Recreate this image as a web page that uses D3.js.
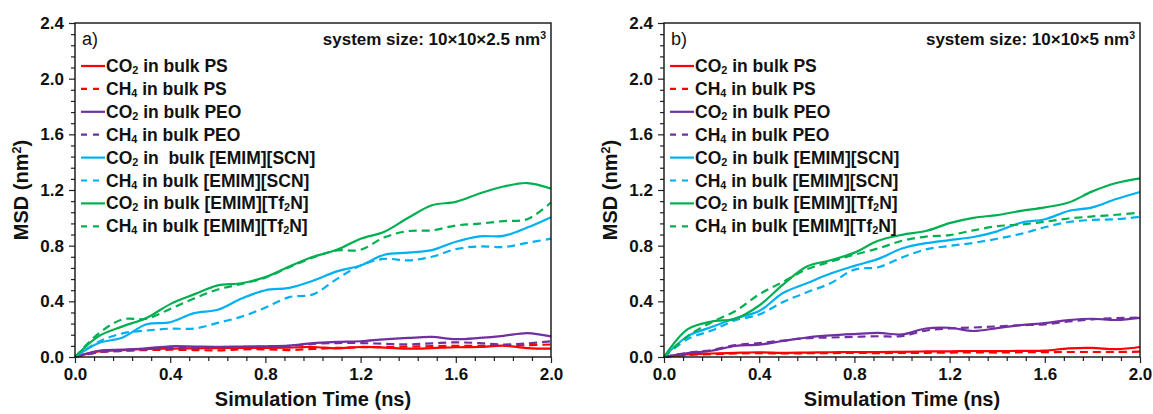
<!DOCTYPE html>
<html>
<head>
<meta charset="utf-8">
<script src="https://cdn.jsdelivr.net/npm/d3@7"></script>
<style>
  body { margin: 0; background: #fff; }
  svg text { font-family: "Liberation Sans", Arial, sans-serif; fill: #111; }
</style>
</head>
<body>
<svg id="chart" width="1153" height="414"></svg>
<script>
// time grid (ns)
const time = [0, 0.1, 0.2, 0.3, 0.4, 0.5, 0.6, 0.7, 0.8, 0.9, 1.0, 1.1, 1.2, 1.3, 1.4, 1.5, 1.6, 1.7, 1.8, 1.9, 2.0];

// panel a) 10x10x2.5 nm3
const aCO2PS   = [0, 0.04, 0.05, 0.058, 0.06, 0.062, 0.064, 0.065, 0.066, 0.068, 0.072, 0.062, 0.072, 0.068, 0.06, 0.064, 0.07, 0.072, 0.082, 0.064, 0.06];
const aCH4PS   = [0, 0.035, 0.045, 0.05, 0.052, 0.05, 0.048, 0.055, 0.055, 0.05, 0.058, 0.065, 0.07, 0.072, 0.075, 0.078, 0.08, 0.08, 0.082, 0.085, 0.09];
const aCO2PEO  = [0, 0.045, 0.053, 0.062, 0.077, 0.075, 0.073, 0.075, 0.077, 0.082, 0.1, 0.108, 0.113, 0.127, 0.137, 0.144, 0.128, 0.137, 0.152, 0.172, 0.148];
const aCH4PEO  = [0, 0.035, 0.045, 0.055, 0.065, 0.068, 0.07, 0.072, 0.075, 0.08, 0.095, 0.1, 0.1, 0.095, 0.091, 0.098, 0.105, 0.1, 0.09, 0.098, 0.113];
const aCO2SCN  = [0, 0.10, 0.14, 0.235, 0.25, 0.315, 0.34, 0.42, 0.48, 0.497, 0.548, 0.615, 0.658, 0.735, 0.75, 0.768, 0.828, 0.867, 0.87, 0.93, 1.005];
const aCH4SCN  = [0, 0.11, 0.17, 0.19, 0.204, 0.204, 0.245, 0.29, 0.355, 0.43, 0.45, 0.56, 0.658, 0.705, 0.694, 0.72, 0.775, 0.795, 0.79, 0.82, 0.85];
const aCO2Tf2N = [0, 0.15, 0.22, 0.28, 0.38, 0.45, 0.515, 0.53, 0.575, 0.65, 0.72, 0.77, 0.85, 0.9, 1.0, 1.09, 1.115, 1.175, 1.225, 1.25, 1.21];
const aCH4Tf2N = [0, 0.17, 0.27, 0.275, 0.345, 0.42, 0.485, 0.525, 0.57, 0.645, 0.715, 0.765, 0.77, 0.86, 0.905, 0.91, 0.945, 0.958, 0.977, 0.99, 1.11];

// panel b) 10x10x5 nm3
const bCO2PS   = [0, 0.018, 0.025, 0.03, 0.034, 0.03, 0.032, 0.034, 0.036, 0.035, 0.037, 0.04, 0.041, 0.043, 0.042, 0.044, 0.046, 0.062, 0.065, 0.056, 0.072];
const bCH4PS   = [0, 0.015, 0.02, 0.025, 0.028, 0.025, 0.027, 0.028, 0.03, 0.028, 0.03, 0.03, 0.032, 0.033, 0.032, 0.034, 0.035, 0.036, 0.036, 0.036, 0.038];
const bCO2PEO  = [0, 0.028, 0.045, 0.08, 0.089, 0.115, 0.14, 0.155, 0.165, 0.173, 0.162, 0.205, 0.21, 0.187, 0.208, 0.23, 0.243, 0.265, 0.275, 0.266, 0.281];
const bCH4PEO  = [0, 0.03, 0.05, 0.085, 0.1, 0.118, 0.135, 0.14, 0.145, 0.149, 0.15, 0.19, 0.205, 0.212, 0.22, 0.228, 0.235, 0.255, 0.27, 0.28, 0.283];
const bCO2SCN  = [0, 0.15, 0.215, 0.278, 0.33, 0.46, 0.53, 0.6, 0.655, 0.705, 0.78, 0.818, 0.84, 0.862, 0.903, 0.965, 0.99, 1.049, 1.075, 1.135, 1.186];
const bCH4SCN  = [0, 0.13, 0.19, 0.265, 0.305, 0.395, 0.465, 0.53, 0.628, 0.645, 0.715, 0.773, 0.798, 0.82, 0.85, 0.885, 0.932, 0.97, 0.985, 0.99, 1.008];
const bCO2Tf2N = [0, 0.2, 0.255, 0.275, 0.37, 0.52, 0.65, 0.695, 0.75, 0.835, 0.878, 0.905, 0.962, 1.0, 1.02, 1.05, 1.075, 1.11, 1.19, 1.25, 1.284];
const bCH4Tf2N = [0, 0.15, 0.25, 0.33, 0.45, 0.54, 0.63, 0.685, 0.735, 0.78, 0.835, 0.865, 0.876, 0.91, 0.94, 0.952, 0.972, 0.995, 1.01, 1.022, 1.037];

const legendA = ["CO_2 in bulk PS", "CH_4 in bulk PS", "CO_2 in bulk PEO", "CH_4 in bulk PEO",
                 "CO_2 in  bulk [EMIM][SCN]", "CH_4 in bulk [EMIM][SCN]", "CO_2 in bulk [EMIM][Tf_2N]", "CH_4 in bulk [EMIM][Tf_2N]"];
const legendB = ["CO_2 in bulk PS", "CH_4 in bulk PS", "CO_2 in bulk PEO", "CH_4 in bulk PEO",
                 "CO_2 in bulk [EMIM][SCN]", "CH_4 in bulk [EMIM][SCN]", "CO_2 in bulk [EMIM][Tf_2N]", "CH_4 in bulk [EMIM][Tf_2N]"];
const colors = ["#ff0000", "#ff0000", "#7030a0", "#7030a0", "#00b0f0", "#00b0f0", "#00b050", "#00b050"];
const dashed = [false, true, false, true, false, true, false, true];

const xTicks = [0, 0.4, 0.8, 1.2, 1.6, 2.0];
const yTicks = [0, 0.4, 0.8, 1.2, 1.6, 2.0, 2.4];

const svg = d3.select("#chart");
const plotTop = 23, plotBottom = 357;

// add text with _x subscripts and ^x superscripts
function richText(sel, str, size) {
    const parts = str.split(/([_^]\w)/);
    parts.forEach(p => {
        if (!p) return;
        if (p[0] === "_") {
            sel.append("tspan").attr("font-size", size * 0.62).attr("baseline-shift", "-22%").text(p[1]);
        } else if (p[0] === "^") {
            sel.append("tspan").attr("font-size", size * 0.62).attr("baseline-shift", "55%").text(p[1]);
        } else {
            sel.append("tspan").text(p);
        }
    });
}

function drawPanel(left, right, series, labels, tag, sizeText) {
    const x = d3.scaleLinear().domain([0, 2]).range([left, right]);
    const y = d3.scaleLinear().domain([0, 2.4]).range([plotBottom, plotTop]);
    const g = svg.append("g");

    // minor ticks
    const minorX = d3.range(0, 2.0001, 0.08).filter(v => Math.abs(v / 0.4 - Math.round(v / 0.4)) > 1e-6);
    const minorY = d3.range(0, 2.4001, 0.08).filter(v => Math.abs(v / 0.4 - Math.round(v / 0.4)) > 1e-6);
    g.append("g").attr("transform", `translate(0,${plotBottom})`)
        .call(d3.axisBottom(x).tickValues(minorX).tickSize(4).tickFormat(""))
        .call(a => a.select(".domain").remove());
    g.append("g").attr("transform", `translate(${left},0)`)
        .call(d3.axisLeft(y).tickValues(minorY).tickSize(4).tickFormat(""))
        .call(a => a.select(".domain").remove());

    const xa = g.append("g").attr("transform", `translate(0,${plotBottom})`)
        .call(d3.axisBottom(x).tickValues(xTicks).tickSize(6).tickPadding(5).tickFormat(d3.format(".1f")));
    const ya = g.append("g").attr("transform", `translate(${left},0)`)
        .call(d3.axisLeft(y).tickValues(yTicks).tickSize(6).tickPadding(5).tickFormat(d3.format(".1f")));
    [xa, ya].forEach(a => {
        a.select(".domain").remove();
        a.selectAll("text").attr("font-size", 17).attr("font-weight", "bold").attr("fill", "#111");
    });
    g.selectAll(".tick line").attr("stroke", "#222").attr("stroke-width", 1.2);

    // curves
    const line = d3.line().x((d, i) => x(time[i])).y(d => y(d)).curve(d3.curveCatmullRom.alpha(0.5));
    series.forEach((s, i) => {
        g.append("path").attr("d", line(s)).attr("fill", "none")
            .attr("stroke", colors[i]).attr("stroke-width", 2.2)
            .attr("stroke-dasharray", dashed[i] ? "8,5" : null);
    });

    // frame
    g.append("rect").attr("x", left).attr("y", plotTop).attr("width", right - left).attr("height", plotBottom - plotTop)
        .attr("fill", "none").attr("stroke", "#111").attr("stroke-width", 1.4);

    // legend
    labels.forEach((lab, i) => {
        const ly = 66 + i * 22.9;
        g.append("line").attr("x1", left + 6).attr("x2", left + 30).attr("y1", ly).attr("y2", ly)
            .attr("stroke", colors[i]).attr("stroke-width", 2.2)
            .attr("stroke-dasharray", dashed[i] ? "6,6" : null);
        const t = g.append("text").attr("x", left + 31).attr("y", ly + 6)
            .attr("font-size", 17.5).attr("font-weight", "bold").attr("xml:space", "preserve")
            .style("white-space", "pre");
        richText(t, lab, 17.5);
    });

    g.append("text").attr("x", left + 7).attr("y", 45).attr("font-size", 18).text(tag);
    const st = g.append("text").attr("x", right - 5).attr("y", 45).attr("text-anchor", "end")
        .attr("font-size", 17).attr("font-weight", "bold");
    richText(st, sizeText, 17);

    g.append("text").attr("x", (left + right) / 2).attr("y", 406).attr("text-anchor", "middle")
        .attr("font-size", 20).attr("font-weight", "bold").text("Simulation Time (ns)");
    const yl = g.append("text").attr("transform", `translate(${left - 47},${(plotTop + plotBottom) / 2}) rotate(-90)`)
        .attr("text-anchor", "middle").attr("font-size", 20).attr("font-weight", "bold");
    richText(yl, "MSD (nm^2)", 20);
}

drawPanel(75, 551, [aCO2PS, aCH4PS, aCO2PEO, aCH4PEO, aCO2SCN, aCH4SCN, aCO2Tf2N, aCH4Tf2N],
    legendA, "a)", "system size: 10×10×2.5 nm^3");
drawPanel(664, 1140, [bCO2PS, bCH4PS, bCO2PEO, bCH4PEO, bCO2SCN, bCH4SCN, bCO2Tf2N, bCH4Tf2N],
    legendB, "b)", "system size: 10×10×5 nm^3");
</script>
</body>
</html>
